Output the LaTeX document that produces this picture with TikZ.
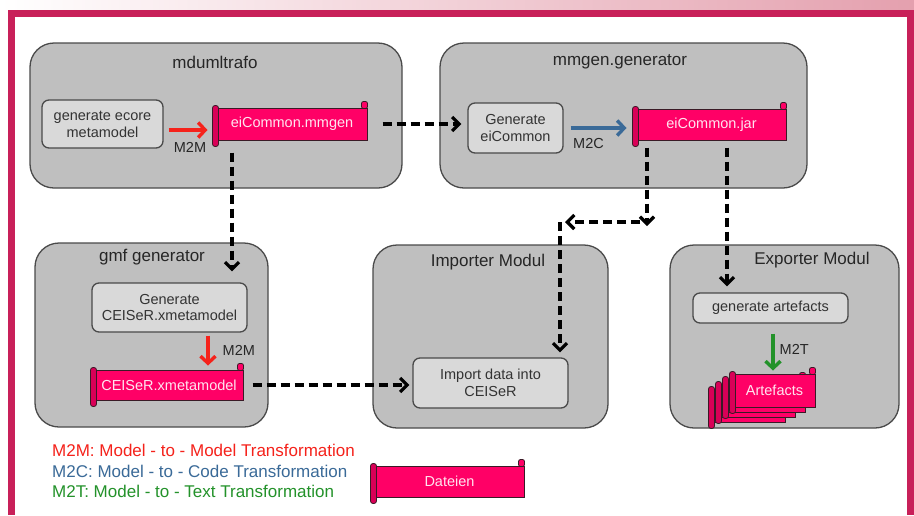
\documentclass[tikz,border=0pt]{standalone}
\usepackage{fontspec}
\setmainfont{Liberation Sans}
\usetikzlibrary{arrows.meta, positioning, calc}

\definecolor{rahmen}{HTML}{C82059}
\definecolor{band}{HTML}{E4A0AE}
\definecolor{modgrau}{HTML}{BFBFBF}
\definecolor{kastengrau}{HTML}{D9D9D9}
\definecolor{linie}{HTML}{4A4A4A}
\definecolor{dateipink}{HTML}{FF0066}
\definecolor{dateirand}{HTML}{3A1A26}
\definecolor{dateitext}{HTML}{FFE4EF}
\definecolor{mzmrot}{HTML}{F5221B}
\definecolor{mzcblau}{HTML}{3A6A98}
\definecolor{mztgruen}{HTML}{23922A}

\newcommand{\titelfont}{\fontsize{17}{20}\selectfont}
\newcommand{\kastenfont}{\fontsize{14.5}{16.8}\selectfont}

\tikzset{
  modul/.style={draw=linie, fill=modgrau, line width=1.3pt, rounded corners=24pt, inner sep=0pt},
  titel/.style={font=\titelfont, text=black!85},
  aufgabe/.style={draw=linie, fill=kastengrau, line width=1.3pt, rounded corners=7pt,
                  inner sep=0pt, align=center, font=\kastenfont, text=black!80},
  datei/.style={draw=dateirand, fill=dateipink, line width=1pt, inner sep=0pt,
                font=\kastenfont, text=dateitext},
  flow/.style={line width=3.2pt, dash pattern=on 9pt off 5pt,
               -{Straight Barb[length=7pt,width=14pt]}},
  trafo/.style={line width=3.4pt, -{Straight Barb[length=7pt,width=15pt]}},
  trafolabel/.style={font=\kastenfont, text=black!85, inner sep=1pt},
  legende/.style={font=\titelfont, anchor=west, inner sep=0pt}
}

% rolled ends of a file node
\newcommand{\rolle}[1]{%
  \draw[draw=dateirand, fill=dateipink, line width=0.8pt, rounded corners=2pt]
    ([xshift=-6pt,yshift=-1pt]#1.north east) rectangle ([yshift=6pt]#1.north east);
  \draw[draw=dateirand, fill=dateipink!85!black, line width=0.8pt, rounded corners=2.5pt]
    ([xshift=-4pt,yshift=2pt]#1.north west) rectangle ([xshift=2pt,yshift=-6pt]#1.south west);
}

\begin{document}
\begin{tikzpicture}[x=1pt, y=-1pt]
\useasboundingbox (0,0) rectangle (914,515);

% background and frame
\fill[white] (0,0) rectangle (914,515);
\shade[left color=white, right color=band] (0,0) rectangle (914,10);
\fill[rahmen] (8,10) rectangle (914,17);
\fill[rahmen] (8,10) rectangle (15,515);
\fill[rahmen] (907,10) rectangle (914,515);

% modules
\node[modul, minimum width=372pt, minimum height=145pt] (mdumltrafo) at (216,115.5) {};
\node[modul, minimum width=367pt, minimum height=145pt] (mmgen)      at (623.5,115.5) {};
\node[modul, minimum width=233pt, minimum height=184pt] (gmf)        at (151.5,335) {};
\node[modul, minimum width=235pt, minimum height=183pt] (importer)   at (490.5,336.5) {};
\node[modul, minimum width=229pt, minimum height=183pt] (exporter)   at (784.5,336.5) {};

\node[titel] (tMdumltrafo) at (215,62)  {mdumltrafo};
\node[titel] (tMmgen)      at (620,62)  {mmgen.generator};
\node[titel] (tGmf)        at (152,257) {gmf generator};
\node[titel] (tImporter)   at (488,262) {Importer Modul};
\node[titel] (tExporter)   at (812,260) {Exporter Modul};

% tasks
\node[aufgabe, minimum width=121pt, minimum height=48pt] (genEcore)     at (102.5,124) {generate ecore\\metamodel};
\node[aufgabe, minimum width=95pt,  minimum height=50pt] (genEiCommon)  at (515.5,128) {Generate\\eiCommon};
\node[aufgabe, minimum width=155pt, minimum height=49pt] (genCeiser)    at (169.5,307.5) {Generate\\CEISeR.xmetamodel};
\node[aufgabe, minimum width=155pt, minimum height=50pt] (importData)   at (490.5,383) {Import data into\\CEISeR};
\node[aufgabe, minimum width=155pt, minimum height=30pt] (genArtefacts) at (770.5,308) {generate artefacts};

% files
\node[datei, minimum width=150pt, minimum height=32pt] (mmgenDatei)  at (292,124) {eiCommon.mmgen};
\rolle{mmgenDatei}
\node[datei, minimum width=149pt, minimum height=31pt] (jarDatei)    at (711.5,124.5) {eiCommon.jar};
\rolle{jarDatei}
\node[datei, minimum width=148pt, minimum height=30pt] (ceiserDatei) at (169,385) {CEISeR.xmetamodel};
\rolle{ceiserDatei}
\node[datei, minimum width=149pt, minimum height=31pt] (dateien)     at (449.5,481.5) {Dateien};
\rolle{dateien}

% stack of artefacts
\foreach \k in {3,2,1} {
  \node[datei, minimum width={81-3*\k}, minimum height=33pt] (art\k)
    at ({774.5-8.5*\k},{390.5+5*\k}) {};
  \rolle{art\k}
}
\node[datei, minimum width=81pt, minimum height=33pt] (art) at (774.5,390.5) {Artefacts};
\rolle{art}

% transformations
\draw[trafo, mzmrot] ([xshift=5pt,yshift=-6pt]genEcore.east) -- ([xshift=-9pt,yshift=-6pt]mmgenDatei.west)
  node[trafolabel, below=10pt, pos=0.55] {M2M};
\draw[trafo, mzcblau] ([xshift=7pt]genEiCommon.east) -- ([xshift=-10pt]genEiCommon.east -| jarDatei.west)
  node[trafolabel, below=8pt, pos=0.32] {M2C};
\draw[trafo, mzmrot, shorten >=4pt] ([xshift=38.5pt,yshift=-3pt]genCeiser.south)
  -- ([xshift=38.5pt]genCeiser.south |- ceiserDatei.north)
  node[trafolabel, right=12pt, pos=0.45] {M2M};
\draw[trafo, mztgruen, shorten >=3pt] ([xshift=2.5pt,yshift=-10pt]genArtefacts.south)
  -- ([xshift=2.5pt]genArtefacts.south |- art.north)
  node[trafolabel, right=4pt, pos=0.4] {M2T};

% dependencies
\coordinate (jarDrop) at (647,226);
\coordinate (knick) at (560,222);
\draw[flow, shorten <=15pt, shorten >=6pt] (mmgenDatei.east) -- (mmgenDatei.east -| genEiCommon.west);
\draw[flow, shorten >=11pt] ([xshift=-60pt,yshift=-12pt]mmgenDatei.south) -- ([xshift=-60pt]mmgenDatei.south |- genCeiser.north);
\draw[flow, shorten <=9pt, shorten >=3pt] (ceiserDatei.east) -- (ceiserDatei.east -| importData.west);
\draw[flow] ([xshift=-64.5pt,yshift=-7pt]jarDatei.south) -- (jarDrop);
\draw[flow, shorten <=7pt, shorten >=5pt] (knick -| jarDrop) -- (knick);
\draw[flow, shorten >=5pt] (knick) -- (knick |- importData.north);
\draw[flow, shorten >=6pt] ([xshift=15.5pt,yshift=-7pt]jarDatei.south) -- ([xshift=15.5pt]jarDatei.south |- genArtefacts.north);

% legend
\node[legende, text=mzmrot]   (legM2M) at (52,450) {M2M: Model - to - Model Transformation};
\node[legende, text=mzcblau]  (legM2C) at (52,471) {M2C: Model - to - Code Transformation};
\node[legende, text=mztgruen] (legM2T) at (52,491) {M2T: Model - to - Text Transformation};

\end{tikzpicture}
\end{document}
